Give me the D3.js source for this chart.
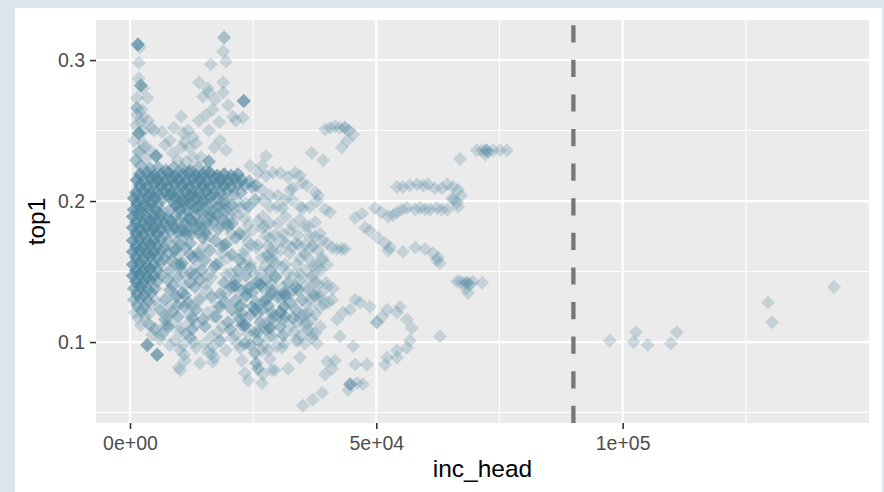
<!DOCTYPE html>
<html>
<head>
<meta charset="utf-8">
<script src="https://cdn.jsdelivr.net/npm/d3@7"></script>
<style>
  html, body { margin: 0; padding: 0; background: #dde5ec; }
  svg { display: block; }
  text { font-family: "Liberation Sans", Arial, sans-serif; }
</style>
</head>
<body>
<svg id="chart" width="884" height="492"></svg>
<script>
// Observations as [inc_head, top1, count]; count = number of coinciding observations (default 1)
const spikeLow = [
  [1600,.311,4],[2000,.309],[1800,.298],[1800,.287],[2200,.282,3],[2600,.280],[1400,.273],[3500,.273],
  [1400,.266,2],[2400,.265],[1400,.261],[2600,.260],[3700,.257],[1800,.248,4],[2800,.250],[4300,.252],
  [4900,.250],[2600,.241],[1800,.235,2],[3200,.230],[5300,.232,4],[4100,.236],[1200,.254],[2200,.256],
  [800,.243],[3000,.238],[1200,.229,2],[2200,.225,2]
];
const spikeMid = [
  [19100,.316,2],[18900,.306],[19500,.299],[16400,.297],[18900,.284],[14000,.284],[15800,.280],[14800,.274],
  [16000,.277],[18900,.277],[23100,.271,4],[20900,.260],[22900,.259],[21500,.257],[16800,.265],[15400,.261],
  [14000,.257],[18100,.256],[16000,.250],[10400,.260],[8900,.252],[10800,.248],[11800,.250],[12800,.245],
  [11000,.242],[10400,.238],[8700,.234],[12000,.238],[13400,.241],[17100,.238],[16000,.228,3],[14400,.231],
  [12800,.231],[27600,.232],[19900,.268],[17300,.272],[8100,.243],[6500,.249],[7100,.240],[9700,.229],
  [11400,.228],[18300,.243],[19500,.236]
];
const coreBand = [
  [4100,.223,2],[5700,.224,2],[7300,.222,2],[8900,.224,2],[10600,.223,2],[12200,.222,2],[13800,.224,2],[15400,.221,2],
  [2000,.219,4],[3500,.220,4],[4900,.218,4],[6300,.219,4],[7700,.220,4],[9100,.218,4],[10600,.219,4],[12000,.220,4],
  [13400,.218,4],[14800,.219,4],[16200,.220,4],[17700,.218,4],[19100,.219,4],[20500,.218,3],[21900,.219,3],
  [1400,.215,4],[2800,.214,4],[4300,.216,4],[5700,.215,4],[7100,.214,4],[8500,.216,4],[9900,.215,4],[11400,.214,4],
  [12800,.216,4],[14200,.215,4],[15600,.214,4],[17100,.216,4],[18500,.215,4],[19900,.214,4],[21300,.216,3],[22700,.215,3],[24200,.214,2],
  [2000,.211,4],[3500,.210,4],[4900,.212,4],[6300,.211,4],[7700,.210,4],[9100,.212,4],[10600,.211,4],[12000,.210,4],
  [13400,.212,4],[14800,.211,4],[16200,.210,4],[17700,.212,4],[19100,.211,4],[20500,.210,3],[21900,.212,3],[23300,.211,2],[24800,.210,2],
  [1200,.206,4],[2600,.207,4],[4100,.205,4],[5500,.206,4],[6900,.207,4],[8300,.205,4],[9700,.206,4],[11200,.207,4],
  [12600,.205,4],[14000,.206,4],[15400,.207,4],[16900,.205,3],[18300,.206,3],[19700,.207,2],[21100,.205,2],[22500,.206,2],
  [800,.202,4],[2200,.201,4],[3700,.203,4],[5100,.202,4],[6500,.201,2],[7900,.203,4],[9300,.202,4],[10800,.201,4],
  [12200,.203,4],[13600,.202,4],[15000,.201,3],[16400,.203,3],[17900,.202,2],[19300,.201,2],
  [1400,.198,4],[2800,.197,4],[4300,.199,4],[5700,.198,2],[9300,.197,4],[10800,.199,4],[12200,.198,4],[13600,.197,3],
  [15000,.199,3],[16400,.198,2],[17900,.197,2],[19300,.198,2],[20700,.197,2],[22100,.199],[23500,.198],
  [800,.194,4],[2200,.193,4],[3700,.195,4],[5100,.194,4],[6500,.193,2],[8500,.195,2],[10200,.194,4],[11800,.193,3],[13400,.195,3],
  [15000,.194,2],[16400,.193,2],[17900,.195,2],[19300,.194,2],[20700,.193],[22300,.195],
  [13400,.190,2],[14800,.191,2],[16200,.189,2],[17700,.190,2],[19100,.191],[20500,.189],[21900,.190],
  [11200,.184,2],[12600,.185,2],[14000,.183,2],[15400,.184,2],[16800,.185,2],[18300,.183],[19700,.184],
  [9700,.178,2],[11200,.179,2],[12600,.177,2],[14000,.178,2],[15400,.179]
];
const coreColumn = [
  [600,.189,4],[2000,.190,4],[3500,.188,4],[4900,.189,4],[6300,.190,4],[7700,.188,3],[9100,.189,2],[10600,.190,2],[12000,.188,2],
  [1200,.185,4],[2600,.184,4],[4100,.186,4],[5500,.185,4],[6900,.184,3],[8300,.186,2],[9700,.185,2],
  [600,.181,4],[2000,.180,4],[3500,.182,4],[4900,.181,4],[6300,.180,3],[7700,.182,2],[9100,.181,2],
  [1200,.177,4],[2600,.176,4],[4100,.178,4],[5500,.177,4],[6900,.176,2],[8300,.178,2],
  [600,.172,4],[2000,.173,4],[3500,.171,4],[4900,.172,4],[6300,.173,2],[7700,.171,2],
  [1200,.168,4],[2600,.167,4],[4100,.169,4],[5500,.168,3],[6900,.167,2],
  [600,.164,4],[2000,.165,4],[3500,.163,4],[4900,.164,4],[6300,.165,2],[7700,.163,2],
  [1200,.160,4],[2600,.159,4],[4100,.161,4],[5500,.160,3],[6900,.159,2],
  [600,.155,4],[2000,.156,4],[3500,.154,4],[4900,.155,3],[6300,.156,2],
  [1200,.151,4],[2600,.150,4],[4100,.152,4],[5500,.151,2],
  [600,.147,4],[2000,.148,4],[3500,.146,4],[4900,.147,3],[6300,.148,2],
  [1200,.143,4],[2600,.142,4],[4100,.144,3],[5500,.143,2],
  [800,.138,3],[2200,.139,4],[3700,.137,3],[5100,.138,2],
  [1400,.134,3],[2800,.133,3],[4300,.135,2],
  [800,.130,2],[2200,.131,2],[3700,.129,2],[5100,.130],
  [1400,.126,2],[2800,.125,2],[4300,.127],
  [1000,.121],[2400,.122,2],[3900,.120],
  [1600,.117],[3000,.118],
  [2200,.112],[3700,.113]
];
const coreEdge = [
  [26000,.220],[27600,.218],[29000,.220],[30500,.220],[32100,.217],[33500,.220],[34500,.218],[34900,.213],
  [35900,.211],[33100,.209],[32500,.208],[37600,.206],[38200,.204],[38000,.200],[36500,.196],[35100,.195],
  [34500,.196],[29800,.196],[30900,.195],[28400,.196],[27000,.201],[27000,.189],[25600,.211,2],[26800,.208],
  [28400,.204],[30000,.204],[31500,.201],[32900,.201],[25400,.201,2],[24000,.196,2],[24400,.225],[26800,.225],
  [39600,.194],[40600,.192],
  [35500,.169],[37100,.168],[39000,.160],[28000,.168],[29000,.164],[28800,.160],[40000,.170],[41000,.167],
  [42000,.166],[43000,.166],[43600,.166]
];
const spread = [
  [12200,.187,2],[14200,.185,2],[16600,.189,2],[18700,.187,2],[20700,.184,2],[23300,.188],[26000,.186],[28400,.184],[31500,.189],[34500,.187],[37600,.185],
  [10600,.179,2],[13200,.181,2],[15200,.177,2],[17900,.180,2],[19900,.182,2],[22300,.177,2],[24800,.179],[26800,.181],[29400,.176],[32500,.179],[35500,.182],[38600,.177],
  [9700,.172,2],[12200,.170,2],[14800,.174,2],[17300,.172,2],[19300,.169,2],[21500,.174,2],[24000,.171],[26000,.169],[28400,.174],[30900,.172],[33700,.170],[36500,.175],[39000,.172],
  [9100,.165,2],[11200,.167,2],[13800,.163,2],[16200,.165,2],[18700,.168,2],[20700,.162,2],[23300,.165],[25600,.167],[28000,.162],[30500,.165],[32900,.167],[35500,.163],[38200,.165],
  [8500,.158,2],[10600,.156,2],[12800,.160,2],[15200,.158,2],[17500,.155,2],[19900,.160],[22300,.158,2],[24400,.156],[26800,.160],[29000,.157],[31500,.155],[34500,.159],[36900,.157],
  [8100,.151,2],[10200,.153,2],[12200,.149,2],[14600,.151,2],[17100,.153,2],[19500,.148],[21900,.151,2],[24400,.153,2],[26400,.149],[28400,.151,2],[30900,.153],[33300,.148],[35700,.151],[38200,.153],
  [7700,.144,2],[9700,.146,2],[12200,.142,2],[14200,.144,2],[16600,.146],[19100,.142,2],[21500,.144,2],[23500,.147,2],[25600,.142,2],[27600,.144,2],[29600,.146,2],[32100,.142,2],[34500,.144],[36900,.146],[39800,.142],
  [8100,.137,2],[10600,.135,2],[13200,.139,2],[15600,.137],[18300,.134,2],[20700,.139,2],[22700,.137,2],[24800,.135,2],[26800,.139,2],[28800,.137,2],[31300,.135,2],[33700,.139,2],[36100,.137],[38600,.134],[41200,.138],
  [7100,.130,2],[9500,.132,2],[11800,.128,2],[14200,.130],[16600,.132,2],[19300,.128,2],[21500,.130,2],[23500,.133,2],[25600,.128,2],[27600,.130,2],[30000,.132,2],[32500,.128,2],[34900,.130,2],[37600,.132],[40200,.128],
  [6100,.123,2],[8500,.121,2],[11000,.125,2],[13400,.123,2],[15800,.121],[18300,.125,2],[20700,.123,2],[22700,.120,2],[24800,.125,2],[26800,.123,2],[28800,.121,2],[31300,.125,2],[33700,.123,2],[36100,.121],[38600,.125],
  [7100,.116,2],[9700,.118,2],[12200,.114],[14800,.116,2],[17500,.118,2],[19900,.114,2],[22300,.116,2],[24400,.119,2],[26400,.114,2],[28800,.116,2],[31500,.118,2],[34100,.114],[36900,.116],
  [5100,.109,2],[7700,.111,2],[10200,.107],[12600,.109,2],[15200,.111,2],[17900,.107],[20300,.109,2],[22700,.112,2],[25200,.107,2],[27600,.109,2],[30500,.111,2],[33300,.107],[36100,.109],[38600,.111],
  [9100,.101],[12200,.103,2],[15200,.099],[18300,.101,2],[20700,.103],[23300,.099,2],[26000,.101,2],[28400,.104],[31300,.099],[34100,.101],[36900,.103],
  [10200,.094],[13400,.096],[16600,.092],[19500,.094],[22300,.096],[25400,.092,2],[28000,.094],[30900,.096],
  [11200,.087],[14200,.085],[17100,.089],[22700,.087],[25600,.085,2],[28400,.088],
  [10200,.080],[23300,.078],[26000,.081,2],[28800,.080],
  [24000,.073],[26800,.071]
];
const spreadFill = [
  [11300,.183],[15600,.182],[19700,.184],[24000,.183],[27300,.182],[30000,.184],[33000,.183],[36200,.182],
  [11400,.176],[16000,.175],[20600,.177],[23100,.176],[27600,.175],[31000,.177],[34000,.176],[37500,.175],
  [10200,.169],[15000,.168],[19700,.170],[24600,.169],[29200,.168],[31700,.170],[34200,.169],[37000,.168],
  [9700,.162],[14000,.161],[18600,.163],[23000,.162],[27800,.161],[32400,.163],[35600,.162],
  [9400,.155],[13400,.154],[18300,.156],[23100,.155],[27400,.154],[29700,.156],[33900,.155],[37200,.154],
  [11200,.148],[15800,.147],[20500,.149],[25300,.148],[29500,.147],[32000,.149],[34600,.148],[37000,.147],
  [11000,.140],[15400,.141],[20300,.139],[24600,.140],[28600,.141],[31000,.139],[35700,.140],[38300,.141],
  [9300,.133],[14400,.132],[19400,.134],[23800,.133],[27800,.132],[32500,.134],[37400,.133],
  [8300,.126],[13000,.127],[17700,.125],[22600,.126],[26600,.127],[31200,.125],[36200,.126],[39400,.127],
  [7300,.119],[12200,.120],[17000,.118],[21700,.119],[25800,.120],[30100,.118],[35000,.119],[37600,.120],
  [8400,.112],[13500,.113],[18700,.111],[23400,.112],[27400,.113],[32500,.111],[35600,.112],
  [6400,.105],[11400,.106],[16600,.104],[21500,.105],[24000,.106],[29000,.104],[34700,.105],[37600,.106],
  [10700,.098],[16800,.097],[21900,.099],[27200,.098],[29800,.097],[35500,.099]
];
const spreadDense = [
  [21300,.140,3],[24000,.138,2],[26400,.141,3],[28800,.135,2],[31500,.133,3],[34100,.137,2],[36500,.130],[22300,.126,2],
  [25400,.123,3],[28000,.126,2],[30500,.121,3],[33100,.117,2],[35500,.119],[23300,.112,3],[26000,.107,2],[28400,.110,3],
  [31100,.105,2],[33700,.101],[24400,.098,2],[26800,.094],
  [8900,.182,2],[11400,.177,2],[9300,.166,2],[12200,.162,2],[10200,.155,2],[13200,.148,2],[8700,.140,2],[11200,.133,2],[9700,.126,2],[12600,.117,2]
];
const trails = [
  [39600,.251],[40600,.252],[41600,.253],[42600,.252],[43600,.252,2],[44500,.250],[45300,.247],[44100,.243],
  [43000,.238],[36900,.234],[39200,.229],
  [54200,.210],[55400,.210],[56800,.211],[58300,.212],[59500,.211],[60500,.212],[61900,.209],[63300,.209],
  [64400,.212],[65600,.210],[66600,.208],[67200,.204],[65600,.201],[66600,.196],[64400,.194],
  [49700,.195],[51000,.192],[52400,.189],[53400,.190],[54200,.192],[55200,.194],[56200,.195],[57900,.194],
  [58900,.195],[59900,.194],[60900,.194],[62300,.195],[63300,.194],[65400,.202],[66400,.199],
  [47700,.181],[48700,.179],[50300,.174],[51800,.170],[52800,.167],[55400,.164],[57900,.167],[59900,.166],
  [61500,.163],[62500,.160],[62300,.158],[62900,.156],[52400,.165],[45700,.188],[47100,.191],
  [66400,.143],[67000,.143],[67800,.142],[68400,.142,2],[69000,.141],[69600,.143],[71500,.142],[68600,.135],[68200,.138],
  [70400,.236],[71500,.236],[72300,.236,2],[72700,.235],[73700,.236],[75100,.236],[76500,.236],[72100,.233],[67000,.230],
  [62900,.104]
];
const lowRight = [
  [50100,.114,2],[51200,.118],[52200,.123],[54800,.125],[54200,.121],[56200,.116],[57200,.110],[56800,.101],
  [56200,.096],[54200,.094],[54200,.089],[52200,.089],[51800,.084],
  [46700,.128],[48700,.125],[45700,.130],[44700,.123],[43200,.121],[42000,.116],[42600,.104],[45300,.097],
  [48100,.084],[45700,.084],[44700,.070,3],[46100,.071],[47300,.070],[44300,.066],[39000,.064],[37100,.059],
  [35100,.055],[41600,.087],[40000,.086],[41000,.081],[39600,.077],[38600,.151],[40000,.155],[39000,.158],
  [37600,.142],[40000,.139],[38600,.132],[41000,.130],[37100,.135],[33100,.137],[27800,.130],[30500,.132],
  [29000,.118],[31100,.116],[34500,.117],[35900,.113],[36900,.106],[38000,.099],[34500,.089],[29400,.080],
  [32100,.081],[27000,.077]
];
const lowLeft = [
  [3500,.098,4],[5500,.091,4],[6700,.107],[10400,.110],[11000,.091],[9900,.082],[13000,.100],[15800,.093],
  [16800,.086],[4500,.105],[6100,.102],[8100,.098],[7100,.112],[4100,.112]
];
const highIncome = [
  [97400,.101],[102700,.107],[102200,.100],[105100,.098],[111000,.107],[109800,.099],
  [129500,.128],[130300,.114],[142900,.139]
];

const xTicks = [0, 50000, 100000];
const xTickLabels = ["0e+00", "5e+04", "1e+05"];
const xMinor = [25000, 75000, 125000];
const yTicks = [0.1, 0.2, 0.3];
const yTickLabels = ["0.1", "0.2", "0.3"];
const yMinor = [0.05, 0.15, 0.25];
const cutoff = 90000;

const xDomain = [-6900, 150000];
const yDomain = [0.0426, 0.3284];

// ---- layout ----
const svg = d3.select("#chart");
const W = 884, H = 492;
const panel = { left: 96, top: 20, right: 869, bottom: 423 };

svg.append("rect").attr("x", 0).attr("y", 0).attr("width", W).attr("height", H).attr("fill", "#dde5ec");
svg.append("rect").attr("x", 15).attr("y", 8).attr("width", 867).attr("height", H - 8).attr("fill", "#ffffff");

const x = d3.scaleLinear().domain(xDomain).range([panel.left, panel.right]);
const y = d3.scaleLinear().domain(yDomain).range([panel.bottom, panel.top]);

svg.append("rect")
  .attr("x", panel.left).attr("y", panel.top)
  .attr("width", panel.right - panel.left).attr("height", panel.bottom - panel.top)
  .attr("fill", "#ebebeb");

const grid = svg.append("g");
grid.selectAll("line.xmin").data(xMinor).join("line")
  .attr("x1", d => x(d)).attr("x2", d => x(d)).attr("y1", panel.top).attr("y2", panel.bottom)
  .attr("stroke", "#fff").attr("stroke-width", 1.1);
grid.selectAll("line.ymin").data(yMinor).join("line")
  .attr("y1", d => y(d)).attr("y2", d => y(d)).attr("x1", panel.left).attr("x2", panel.right)
  .attr("stroke", "#fff").attr("stroke-width", 1.1);
grid.selectAll("line.xmaj").data(xTicks).join("line")
  .attr("x1", d => x(d)).attr("x2", d => x(d)).attr("y1", panel.top).attr("y2", panel.bottom)
  .attr("stroke", "#fff").attr("stroke-width", 2.2);
grid.selectAll("line.ymaj").data(yTicks).join("line")
  .attr("y1", d => y(d)).attr("y2", d => y(d)).attr("x1", panel.left).attr("x2", panel.right)
  .attr("stroke", "#fff").attr("stroke-width", 2.2);

// ---- points: filled diamonds, semi-transparent ----
const obs = [spikeLow, spikeMid, coreBand, coreColumn, coreEdge, spread, spreadFill, spreadDense,
             trails, lowRight, lowLeft, highIncome].flat();
const marks = [];
obs.forEach(([xv, yv, n = 1]) => { for (let i = 0; i < n; i++) marks.push([xv, yv]); });

const diamond = d3.symbol(d3.symbolSquare, 98)();
svg.append("g").selectAll("path").data(marks).join("path")
  .attr("d", diamond)
  .attr("transform", d => `translate(${x(d[0])},${y(d[1])}) rotate(45)`)
  .attr("fill", "#4e86a0")
  .attr("fill-opacity", 0.25);

// ---- dashed reference line ----
svg.append("line")
  .attr("x1", x(cutoff)).attr("x2", x(cutoff))
  .attr("y1", panel.bottom).attr("y2", panel.top)
  .attr("stroke", "#777777").attr("stroke-width", 4.3)
  .attr("stroke-dasharray", "17.2,17.4");

// ---- axes ----
const xAxis = d3.axisBottom(x).tickValues(xTicks)
  .tickFormat((d, i) => xTickLabels[i]).tickSizeOuter(0).tickSize(6).tickPadding(6);
const gx = svg.append("g").attr("transform", `translate(0,${panel.bottom})`).call(xAxis);
gx.select(".domain").remove();
gx.selectAll(".tick line").attr("stroke", "#333").attr("stroke-width", 1.6);
gx.selectAll(".tick text").attr("fill", "#4d4d4d").attr("font-size", "19.5px")
  .attr("font-family", "Liberation Sans, Arial, sans-serif").attr("dy", "0.75em");

const yAxis = d3.axisLeft(y).tickValues(yTicks)
  .tickFormat((d, i) => yTickLabels[i]).tickSizeOuter(0).tickSize(6).tickPadding(5);
const gy = svg.append("g").attr("transform", `translate(${panel.left},0)`).call(yAxis);
gy.select(".domain").remove();
gy.selectAll(".tick line").attr("stroke", "#333").attr("stroke-width", 1.6);
gy.selectAll(".tick text").attr("fill", "#4d4d4d").attr("font-size", "19.5px")
  .attr("font-family", "Liberation Sans, Arial, sans-serif");

// ---- axis titles ----
svg.append("text")
  .attr("x", (panel.left + panel.right) / 2).attr("y", 477)
  .attr("text-anchor", "middle").attr("font-size", "24.5px").attr("fill", "#000")
  .text("inc_head");
svg.append("text")
  .attr("transform", `translate(45,${(panel.top + panel.bottom) / 2}) rotate(-90)`)
  .attr("text-anchor", "middle").attr("font-size", "24.5px").attr("fill", "#000")
  .text("top1");
</script>
</body>
</html>
